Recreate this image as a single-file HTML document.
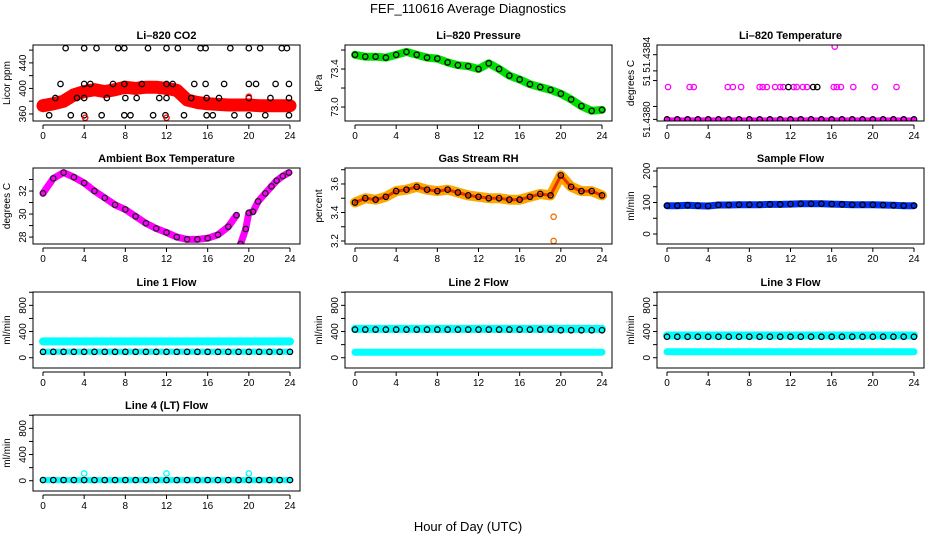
<!DOCTYPE html>
<html><head><meta charset="utf-8"><style>
body{margin:0;background:#fff}
svg{display:block;font-family:"Liberation Sans",sans-serif}
</style></head><body>
<svg id="c" width="936" height="540" viewBox="0 0 936 540">
<text x="468" y="13" text-anchor="middle" font-size="13">FEF_110616  Average Diagnostics</text>
<text x="468" y="531" text-anchor="middle" font-size="13">Hour of Day (UTC)</text>
</svg>
<script>
const HOURS=[0,1,2,3,4,5,6,7,8,9,10,11,12,13,14,15,16,17,18,19,20,21,22,23,24];
const X_TICKS=[0,4,8,12,16,20,24];
// CO2
const co2Band=[373,376,380,390,395,398,395,398,402,400,402,402,400,397,382,378,376,375,374,374,374,373,373,373,373];
const co2CircH=[2.2,4,5.2,7.3,7.9,10.2,12,13.1,15.3,15.8,18.2,20,21.1,23.2,23.7,1.7,4,4.6,6.8,7.9,9.6,12,12.6,14.7,15.8,17.6,20,20.7,22.6,23.9,1.2,3.3,4,6.2,8,9.1,11.3,12,14.4,15.9,17.1,20,22.1,23.9,0.6,2.7,4,5.7,7.9,8.5,10.7,11.9,13.7,15.9,16.5,18.6,20,21.6,23.9];
const co2CircV=[463,463,463,463,463,463,463,463,463,463,463,463,463,463,463,407,407,407,407,407,407,407,407,407,407,407,407,407,407,407,385,385,385,385,385,385,385,385,385,385,385,385,385,385,358,358,358,358,358,358,358,358,358,358,358,358,358,358,358];
const co2RedH=[4.1,12,20];
const co2RedV=[354,354,387];
// Pressure
const presBand=[73.55,73.53,73.53,73.52,73.55,73.58,73.55,73.52,73.51,73.47,73.44,73.43,73.40,73.46,73.40,73.33,73.29,73.24,73.21,73.18,73.14,73.08,73.01,72.96,72.97];
// Li-820 temperature
const tempBand=[51.4380,51.4380,51.4380,51.4380,51.4380,51.4380,51.4380,51.4380,51.4380,51.4380,51.4380,51.4380,51.4380,51.4380,51.4380,51.4380,51.4380,51.4380,51.4380,51.4380,51.4380,51.4380,51.4380,51.4380,51.4380];
const tempMagH=[0.1,2.2,2.6,5.9,6.4,7.2,9,9.3,9.7,10.5,11,11.3,12.3,12.6,13.2,13.6,16.2,16.5,16.9,18.1,20.2,22.3,16.3];
const tempMagV=[51.4382,51.4382,51.4382,51.4382,51.4382,51.4382,51.4382,51.4382,51.4382,51.4382,51.4382,51.4382,51.4382,51.4382,51.4382,51.4382,51.4382,51.4382,51.4382,51.4382,51.4382,51.4382,51.43845];
const tempBlkH=[11.8,14.2,14.6];
const tempBlkV=[51.4382,51.4382,51.4382];
// Ambient box temperature
const ambH=[0,1,2,3,4,5,6,7,8,9,10,11,12,13,14,15,16,17,18,18.8,null,19.2,19.7,20,20.4,20.9,21.6,22.2,22.7,23.3,23.9];
const ambV=[31.8,33.1,33.6,33.2,32.7,32.0,31.4,30.8,30.4,29.8,29.2,28.75,28.4,28.0,27.8,27.8,27.9,28.2,28.9,29.9,null,27.4,28.7,30.1,30.2,31.1,31.8,32.4,32.9,33.3,33.6];
// Gas stream RH
const rhBand=[3.47,3.50,3.49,3.51,3.55,3.56,3.58,3.56,3.55,3.56,3.54,3.52,3.51,3.50,3.50,3.49,3.49,3.51,3.53,3.52,3.66,3.58,3.55,3.55,3.52];
const rhOutH=[19.3,19.3];
const rhOutV=[3.37,3.2];
// Sample flow
const sampBand=[90,90,91,90,89,92,92,93,93,93,94,94,95,96,96,96,95,94,93,93,93,92,91,90,90];
// Line flows
const l1Hi=[250,250,250,250,250,250,250,250,250,250,250,250,250,250,250,250,250,250,250,250,250,250,250,250,250];
const l1Lo=[90,90,90,90,90,90,90,90,90,90,90,90,90,90,90,90,90,90,90,90,90,90,90,90,90];
const l2Hi=[440,440,440,440,440,440,440,440,440,440,440,440,440,440,440,440,440,440,440,440,440,440,440,440,440];
const l2Blk=[430,430,430,430,430,430,430,430,430,430,430,430,430,430,430,430,430,430,430,430,420,420,420,420,420];
const l2Lo=[85,85,85,85,85,85,85,85,85,85,85,85,85,85,85,85,85,85,85,85,85,85,85,85,85];
const l3Hi=[340,340,340,340,340,340,340,340,340,340,340,340,340,340,340,340,340,340,340,340,340,340,340,340,340];
const l3Blk=[320,320,320,320,320,320,320,320,320,320,320,320,320,320,320,320,320,320,320,320,320,320,320,320,320];
const l3Lo=[90,90,90,90,90,90,90,90,90,90,90,90,90,90,90,90,90,90,90,90,90,90,90,90,90];
const l4V=[10,10,10,10,10,10,10,10,10,10,10,10,10,10,10,10,10,10,10,10,10,10,10,10,10];
const l4OutH=[4,12,20];
const l4OutV=[110,110,110];
const FLOW_TICKS=[0,200,400,600,800,1000];
const FLOW_LABELS=["0","","400","","800",""];

const svg=document.getElementById('c');
const NS='http://www.w3.org/2000/svg';
function mk(tag,attrs,parent){const e=document.createElementNS(NS,tag);for(const k in attrs)e.setAttribute(k,attrs[k]);(parent||svg).appendChild(e);return e;}
const COLS=[33,345,657],ROWS=[45,168,292,415],W=267,H=76;

function panel(name,col,row,title,ylab,ymin,ymax,ticks,labels,layers){
  const L=COLS[col],T=ROWS[row];
  const g=mk('g',{});
  
  
  const xs=h=>L+10+h*(247/24);
  const ys=v=>T+H-(v-ymin)/(ymax-ymin)*H;
  const t=mk('text',{x:L+W/2,y:T-6,'text-anchor':'middle','font-size':11,'font-weight':'bold'},g);t.textContent=title;
  
  
  const yl=mk('text',{transform:`translate(${L-23},${T+H/2}) rotate(-90)`,'text-anchor':'middle','font-size':10},g);yl.textContent=ylab;
  
  
  mk('line',{x1:L,y1:ys(ticks[0]),x2:L,y2:ys(ticks[ticks.length-1]),stroke:'#000'},g);
  ticks.forEach((v,i)=>{const y=ys(v);mk('line',{x1:L-4,y1:y,x2:L,y2:y,stroke:'#000'},g);
    if(labels[i]){const tt=mk('text',{transform:`translate(${L-7},${y}) rotate(-90)`,'text-anchor':'middle','font-size':10},g);tt.textContent=labels[i];
      
      }});
  mk('line',{x1:xs(0),y1:T+H+4,x2:xs(24),y2:T+H+4,stroke:'#000'},g);
  X_TICKS.forEach(h=>{const x=xs(h);mk('line',{x1:x,y1:T+H+4,x2:x,y2:T+H+8,stroke:'#000'},g);
    const tt=mk('text',{x:x,y:T+H+18,'text-anchor':'middle','font-size':10},g);tt.textContent=h;
    
    });
  const clip=mk('clipPath',{id:'cp'+name},g);mk('rect',{x:L,y:T,width:W,height:H},clip);
  const pg=mk('g',{'clip-path':`url(#cp${name})`},g);
  layers.forEach(ly=>{
    if(ly.type==='band'){
      let d='',pen=false;
      ly.h.forEach((h,i)=>{const v=ly.v[i];if(h===null||v===null){pen=false;return;}d+=(pen?'L':'M')+xs(h).toFixed(1)+' '+ys(v).toFixed(1);pen=true;});
      const p=mk('path',{d:d,fill:'none',stroke:ly.color,'stroke-width':ly.w,'stroke-linejoin':'round','stroke-linecap':'round'},pg);
      
      
    }else{
      ly.h.forEach((h,i)=>{if(h===null||ly.v[i]===null)return;
        const c=mk('circle',{cx:xs(h),cy:ys(ly.v[i]),r:ly.r||2.7,fill:'none',stroke:ly.color,'stroke-width':1.3},pg);
        
        });
    }
  });
  mk('rect',{x:L,y:T,width:W,height:H,fill:'none',stroke:'#000'},g);
}

panel('co2',0,0,'Li\u2013820 CO2','Licor ppm',349,468,[360,380,400,420,440,460],['360','','400','','440',''],[
 {type:'band',h:HOURS,v:co2Band,color:'#f00',w:13},
 {type:'pts',h:co2CircH,v:co2CircV,color:'#000'},
 {type:'pts',h:co2RedH,v:co2RedV,color:'#f00'}]);
panel('pressure',1,0,'Li\u2013820 Pressure','kPa',72.853,73.653,[73.0,73.2,73.4,73.6],['73.0','','73.4',''],[
 {type:'band',h:HOURS,v:presBand,color:'#00e000',w:8},
 {type:'pts',h:HOURS,v:presBand,color:'#000'}]);
panel('li820-temp',2,0,'Li\u2013820 Temperature','degrees C',51.43799,51.43846,[51.4380,51.43808,51.43824,51.4383,51.4384],['51.4380','','51','','51.4384'],[
 {type:'band',h:HOURS,v:tempBand,color:'#f0f',w:4},
 {type:'pts',h:HOURS,v:tempBand,color:'#000'},
 {type:'pts',h:tempMagH,v:tempMagV,color:'#f0f'},
 {type:'pts',h:tempBlkH,v:tempBlkV,color:'#000'}]);
panel('ambient-temp',0,1,'Ambient Box Temperature','degrees C',27.4,34,[28,29,30,31,32,33],['28','','30','','32',''],[
 {type:'band',h:ambH,v:ambV,color:'#f0f',w:7},
 {type:'pts',h:ambH,v:ambV,color:'#222'}]);
panel('gas-rh',1,1,'Gas Stream RH','percent',3.179,3.712,[3.2,3.3,3.4,3.5,3.6,3.7],['3.2','','3.4','','3.6',''],[
 {type:'band',h:HOURS,v:rhBand,color:'#ffa500',w:10},
 {type:'band',h:HOURS,v:rhBand,color:'#e83000',w:3},
 {type:'pts',h:HOURS,v:rhBand,color:'#000'},
 {type:'pts',h:rhOutH,v:rhOutV,color:'#f07000'}]);
panel('sample-flow',2,1,'Sample Flow','ml/min',-31.7,209.5,[0,50,100,150,200],['0','','100','','200'],[
 {type:'band',h:HOURS,v:sampBand,color:'#0030f0',w:7},
 {type:'pts',h:HOURS,v:sampBand,color:'#000'}]);
panel('line1-flow',0,2,'Line 1 Flow','ml/min',-157,1004,FLOW_TICKS,FLOW_LABELS,[
 {type:'band',h:HOURS,v:l1Hi,color:'#0ff',w:8},
 {type:'band',h:HOURS,v:l1Lo,color:'#0ff',w:6},
 {type:'pts',h:HOURS,v:l1Lo,color:'#000'}]);
panel('line2-flow',1,2,'Line 2 Flow','ml/min',-157,1004,FLOW_TICKS,FLOW_LABELS,[
 {type:'band',h:HOURS,v:l2Hi,color:'#0ff',w:8},
 {type:'band',h:HOURS,v:l2Lo,color:'#0ff',w:7},
 {type:'pts',h:HOURS,v:l2Blk,color:'#000'}]);
panel('line3-flow',2,2,'Line 3 Flow','ml/min',-157,1004,FLOW_TICKS,FLOW_LABELS,[
 {type:'band',h:HOURS,v:l3Hi,color:'#0ff',w:8},
 {type:'band',h:HOURS,v:l3Lo,color:'#0ff',w:7},
 {type:'pts',h:HOURS,v:l3Blk,color:'#000'}]);
panel('line4-flow',0,3,'Line 4 (LT) Flow','ml/min',-157,1004,FLOW_TICKS,FLOW_LABELS,[
 {type:'band',h:HOURS,v:l4V,color:'#0ff',w:6},
 {type:'pts',h:HOURS,v:l4V,color:'#000'},
 {type:'pts',h:l4OutH,v:l4OutV,color:'#0ff'}]);
</script>
</body></html>
